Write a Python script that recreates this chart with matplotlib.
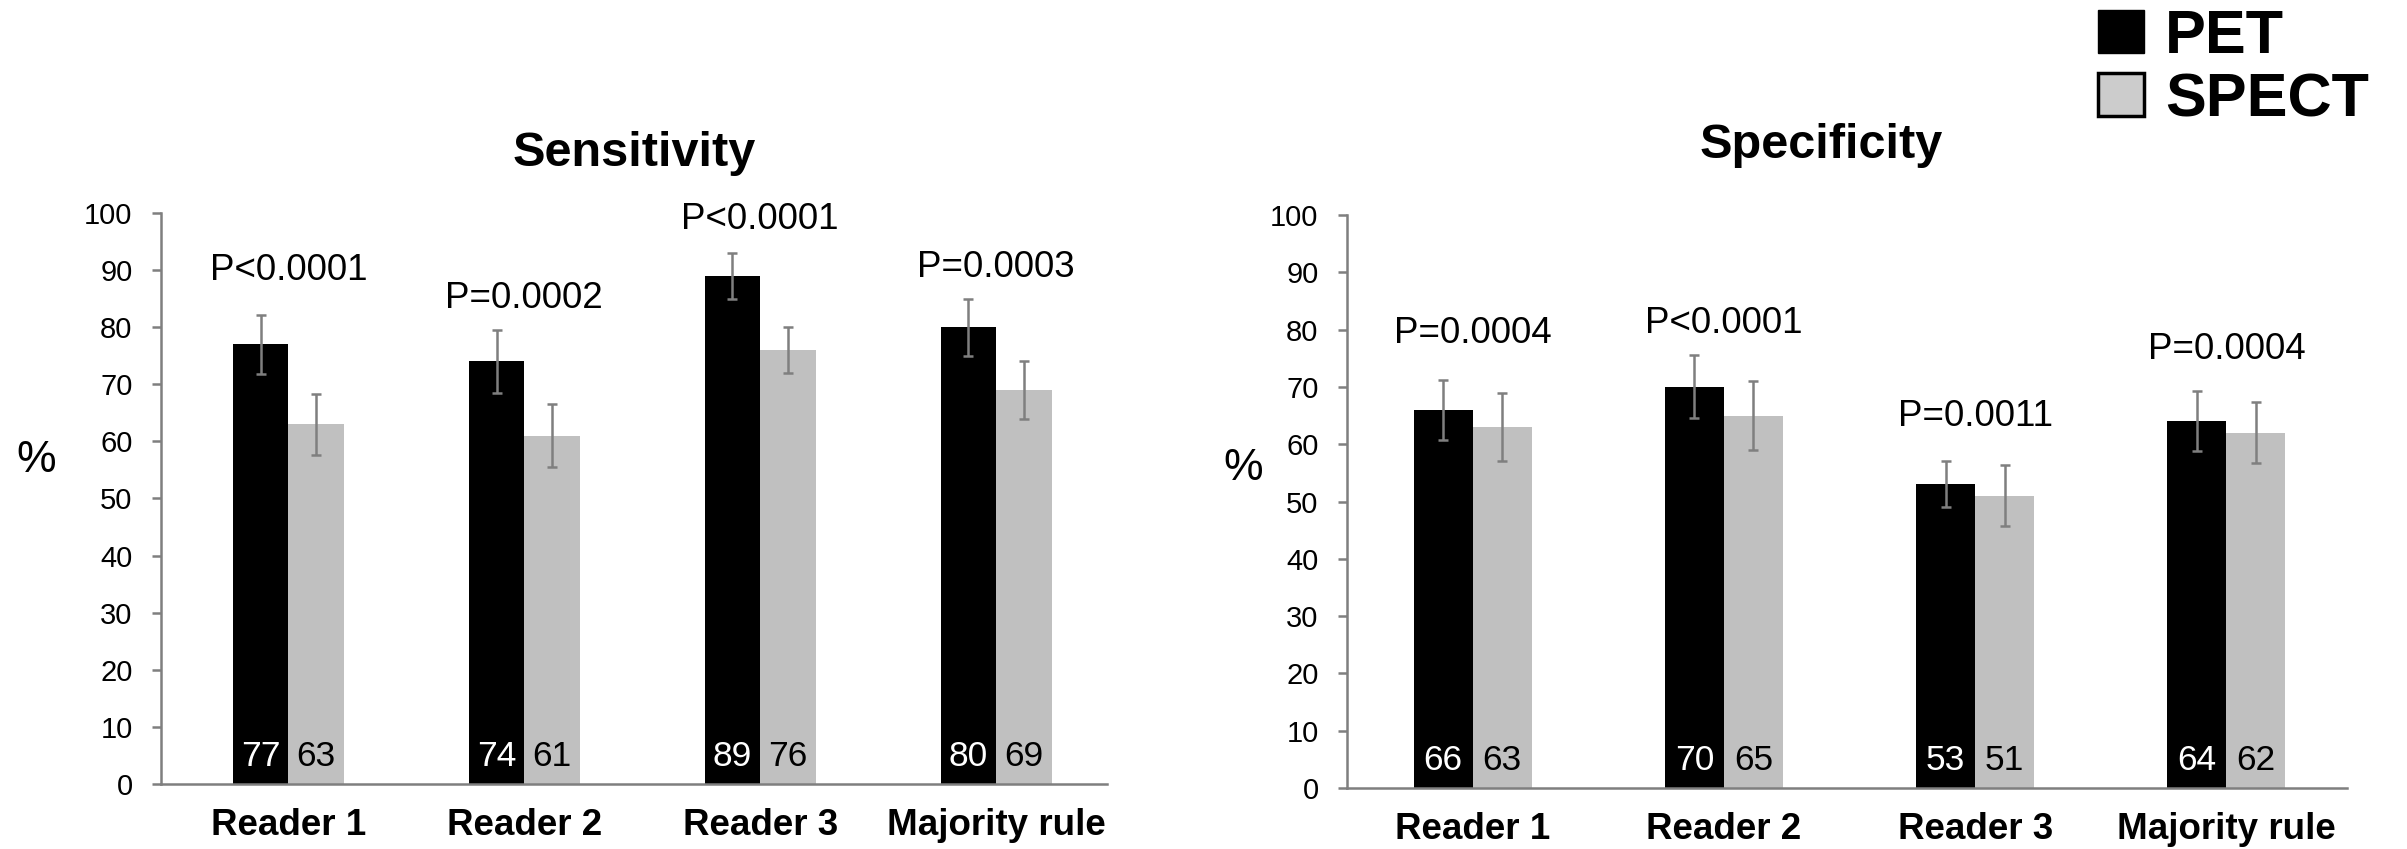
import numpy as np
import matplotlib.pyplot as plt
from matplotlib.patches import Patch

plt.rcParams['font.family'] = ['Liberation Sans', 'DejaVu Sans']

readers = ["Reader 1", "Reader 2", "Reader 3", "Majority rule"]

# 感度
sens_pet = [77, 74, 89, 80]
sens_spect = [63, 61, 76, 69]
sens_pet_err = [5.2, 5.5, 4.0, 5.0]
sens_spect_err = [5.3, 5.5, 4.0, 5.0]
sens_p = ["P<0.0001", "P=0.0002", "P<0.0001", "P=0.0003"]

# 特異度
spec_pet = [66, 70, 53, 64]
spec_spect = [63, 65, 51, 62]
spec_pet_err = [5.2, 5.5, 4.0, 5.2]
spec_spect_err = [6.0, 6.0, 5.3, 5.3]
spec_p = ["P=0.0004", "P<0.0001", "P=0.0011", "P=0.0004"]

# P値ラベルの高さ
sens_p_y = [90, 85, 98.8, 90.4]
spec_p_y = [79.4, 81.1, 64.8, 76.6]

PET_COLOR = "black"
SPECT_COLOR = "#c0c0c0"
GRAY = "#7f7f7f"
W = 0.235

fig = plt.figure(figsize=(24.07, 8.49), dpi=100)


def draw_panel(ax, pet, spect, pet_err, spect_err, pvals, p_y, xlim):
    x = np.arange(len(readers))
    ax.bar(x - W / 2, pet, W, color=PET_COLOR, zorder=2)
    ax.bar(x + W / 2, spect, W, color=SPECT_COLOR, zorder=2)
    ek = dict(fmt="none", ecolor=GRAY, elinewidth=1.8, capsize=3.5, capthick=1.8, zorder=3)
    ax.errorbar(x - W / 2, pet, yerr=pet_err, **ek)
    ax.errorbar(x + W / 2, spect, yerr=spect_err, **ek)

    # 棒の中の数値
    for i in range(len(readers)):
        ax.text(x[i] - W / 2, 3.2, str(pet[i]), color="white", fontsize=25.5,
                ha="center", va="baseline", zorder=4)
        ax.text(x[i] + W / 2, 3.2, str(spect[i]), color="black", fontsize=25.5,
                ha="center", va="baseline", zorder=4)
        ax.text(x[i], p_y[i], pvals[i], fontsize=26.5, ha="center", va="center")

    ax.set_xlim(*xlim)
    ax.set_ylim(0, 100)
    ax.set_yticks(range(0, 101, 10))
    ax.set_xticks(x)
    ax.set_xticklabels(readers, fontsize=26.5, fontweight="bold")
    ax.tick_params(axis="x", length=0, pad=17)
    ax.tick_params(axis="y", length=6.5, width=1.8, color=GRAY, labelsize=21, pad=14)
    for s in ["top", "right"]:
        ax.spines[s].set_visible(False)
    for s in ["left", "bottom"]:
        ax.spines[s].set_color(GRAY)
        ax.spines[s].set_linewidth(1.8)


ax1 = fig.add_axes([0.06689, 0.07656, 0.39302, 0.67256])
draw_panel(ax1, sens_pet, sens_spect, sens_pet_err, sens_spect_err,
           sens_p, sens_p_y, (-0.54, 3.47))

ax2 = fig.add_axes([0.55962, 0.07185, 0.41545, 0.67491])
draw_panel(ax2, spec_pet, spec_spect, spec_pet_err, spec_spect_err,
           spec_p, spec_p_y, (-0.5, 3.48))

# タイトルと軸ラベル
fig.text(634 / 2407, 1 - 153 / 849, "Sensitivity", fontsize=35, fontweight="bold",
         ha="center", va="center")
fig.text(1821 / 2407, 1 - 145 / 849, "Specificity", fontsize=35, fontweight="bold",
         ha="center", va="center")
fig.text(36 / 2407, 1 - 461 / 849, "%", fontsize=32, ha="center", va="center")
fig.text(1243 / 2407, 1 - 468 / 849, "%", fontsize=32, ha="center", va="center")

# 凡例
handles = [Patch(facecolor=PET_COLOR, edgecolor=PET_COLOR),
           Patch(facecolor="#cccccc", edgecolor="black", linewidth=2.5)]
fig.legend(handles, ["PET", "SPECT"], loc="upper left",
           bbox_to_anchor=(2098 / 2407, 1 - 9 / 849), frameon=False,
           prop=dict(size=44, weight="bold"), handlelength=0.75, handleheight=0.7,
           handletextpad=0.35, labelspacing=0.1, borderpad=0, borderaxespad=0)

plt.savefig("out.png", dpi=100)
